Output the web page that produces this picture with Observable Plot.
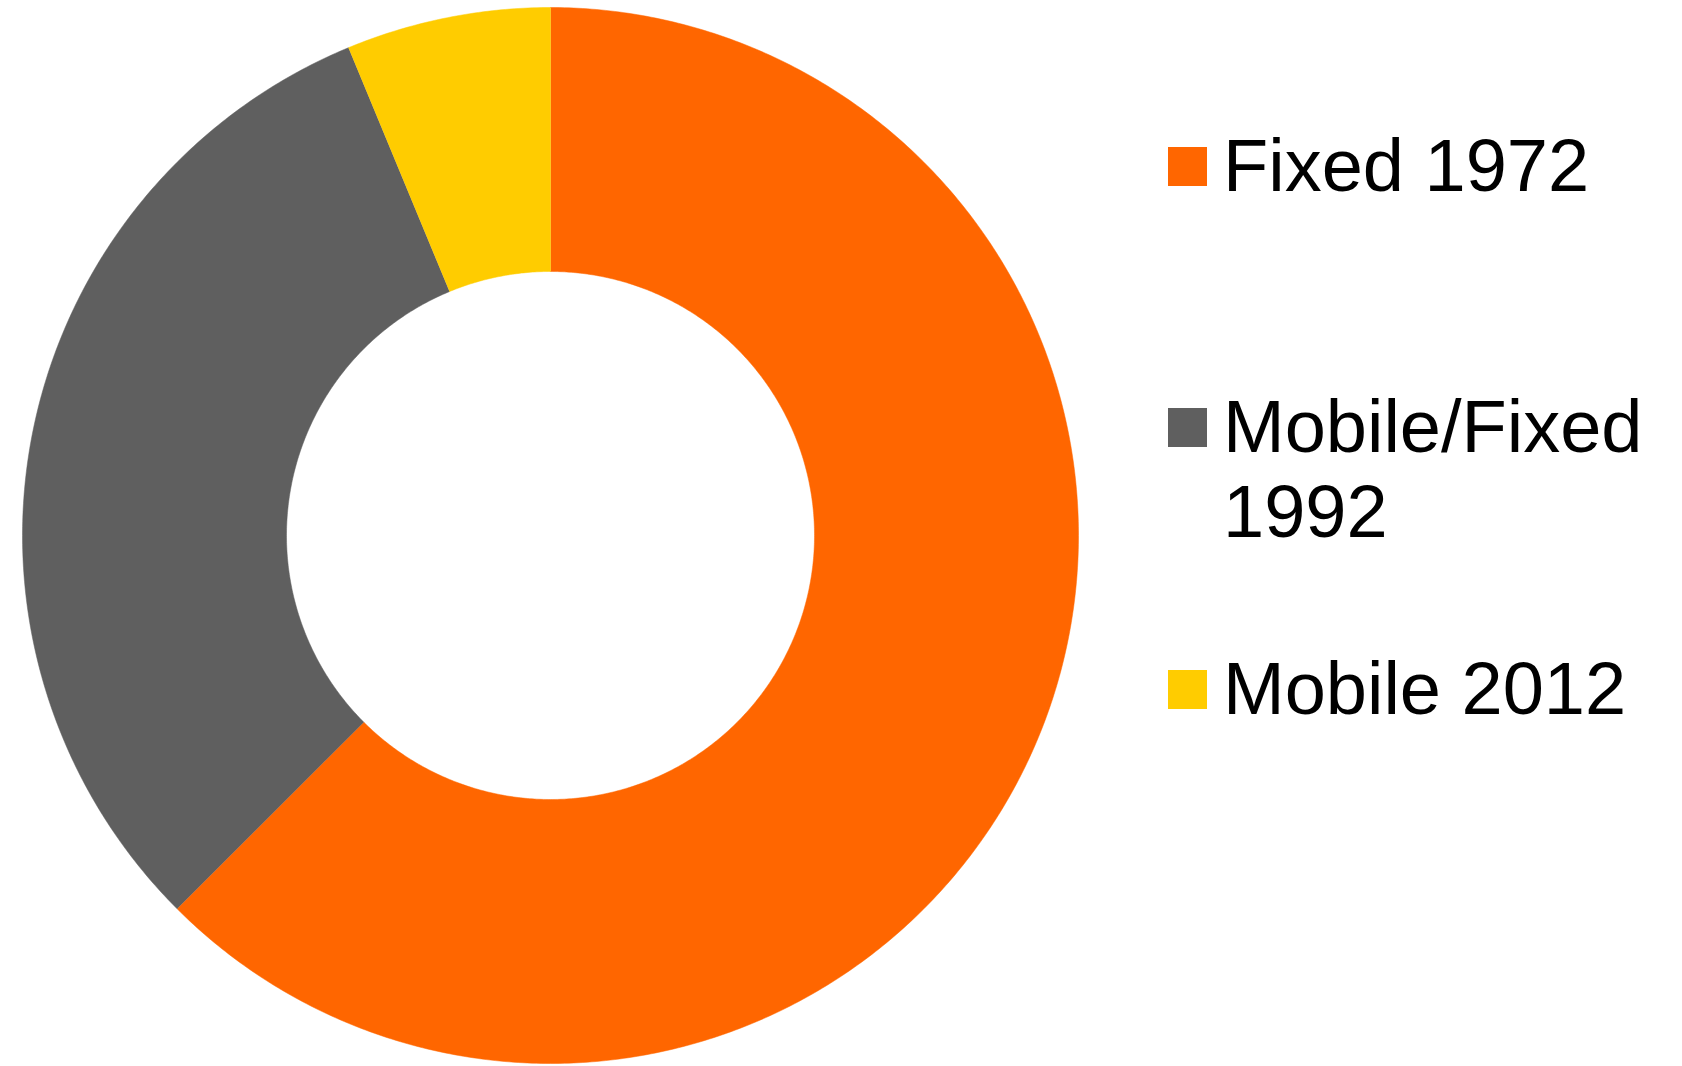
<!DOCTYPE html>
<html>
<head>
<meta charset="utf-8">
<script src="https://cdn.jsdelivr.net/npm/d3@7"></script>
<script src="https://cdn.jsdelivr.net/npm/@observablehq/plot@0.6"></script>
<style>
  html, body { margin: 0; padding: 0; background: #ffffff; }
  #wrap { position: relative; width: 1682px; height: 1066px; overflow: hidden; }
  #chart { position: absolute; left: 0; top: 0; }
  .item { position: absolute; left: 1168px; display: flex; align-items: flex-start; }
  .swatch { width: 39px; height: 39px; flex: none; margin-top: 24px; }
  .label { margin-left: 16px; width: 440px; font-family: "Liberation Sans", Arial, sans-serif; font-size: 74px; line-height: 85px; color: #000; }
</style>
</head>
<body>
<div id="wrap"><div id="chart"></div></div>
<script>
// Data
const categories = ["Fixed 1972", "Mobile/Fixed 1992", "Mobile 2012"];
const values = [10, 5, 1];
const colors = ["#FF6600", "#5F5F5F", "#FFCC00"];

// Layout
const W = 1682, H = 1066;
const CX = 550, CY = 535, R = 528;
const INNER = 0.5; // inner radius as a fraction of outer

// Build slice polygons from the data (angles measured clockwise from 12 o'clock)
const total = d3.sum(values);
let acc = 0;
const pts = [];
categories.forEach((c, i) => {
  const a0 = acc / total * 2 * Math.PI;
  acc += values[i];
  const a1 = acc / total * 2 * Math.PI;
  const n = Math.max(8, Math.ceil((a1 - a0) / (2 * Math.PI) * 720));
  for (let k = 0; k <= n; k++) {
    const a = a0 + (a1 - a0) * k / n;
    pts.push({cat: c, x: Math.sin(a), y: Math.cos(a)});
  }
  for (let k = n; k >= 0; k--) {
    const a = a0 + (a1 - a0) * k / n;
    pts.push({cat: c, x: INNER * Math.sin(a), y: INNER * Math.cos(a)});
  }
});

const chart = Plot.plot({
  width: W,
  height: H,
  margin: 0,
  x: {domain: [-CX / R, (W - CX) / R], range: [0, W], axis: null},
  y: {domain: [-(H - CY) / R, CY / R], range: [H, 0], axis: null},
  color: {domain: categories, range: colors},
  marks: [
    Plot.line(pts, {x: "x", y: "y", z: "cat", fill: "cat", stroke: "cat", strokeWidth: 0.5, curve: "linear"})
  ]
});
document.getElementById("chart").appendChild(chart);

// Legend (HTML, right of the donut)
const wrap = document.getElementById("wrap");
categories.forEach((c, i) => {
  const item = document.createElement("div");
  item.className = "item";
  item.style.top = (122.6 + i * 261.5) + "px";
  const sw = document.createElement("div");
  sw.className = "swatch";
  sw.style.background = colors[i];
  const lb = document.createElement("div");
  lb.className = "label";
  lb.textContent = c;
  item.appendChild(sw);
  item.appendChild(lb);
  wrap.appendChild(item);
});
</script>
</body>
</html>
